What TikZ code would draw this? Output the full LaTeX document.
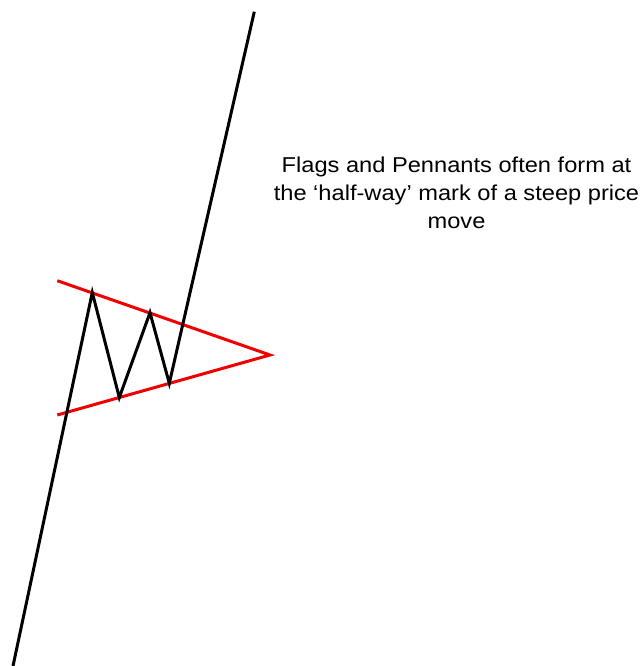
\documentclass[tikz,border=0pt]{standalone}
\usepackage{fontspec}
\setmainfont{Liberation Sans}
\newfontfamily\captionfont[FakeStretch=1.1]{Liberation Sans}
\begin{document}
\begin{tikzpicture}[x=1pt,y=-1pt,
  priceline/.style={line width=3pt,black,line join=miter},
  trendline/.style={line width=3pt,red!95!black,line cap=butt},
  caption/.style={align=center,font=\captionfont\fontsize{21.5}{28}\selectfont,inner sep=0pt}]
\useasboundingbox (0,0) rectangle (642,666);
\coordinate (p0) at (13,666);
\coordinate (p1) at (92.3,292.5);
\coordinate (p2) at (119.3,397.5);
\coordinate (p3) at (150,312.7);
\coordinate (p4) at (169.3,383.3);
\coordinate (p5) at (254.3,11.7);
\coordinate (u0) at (57.3,280.7);
\coordinate (l0) at (57.3,415);
\coordinate (apex) at (270,355);
\draw[trendline] (u0) -- (apex) -- (l0);
\draw[priceline] (p0) -- (p1) -- (p2) -- (p3) -- (p4) -- (p5);
\node[caption] (txt) at (456.5,193) {Flags and Pennants often form at\\the ‘half-way’ mark of a steep price\\move};
\end{tikzpicture}
\end{document}
